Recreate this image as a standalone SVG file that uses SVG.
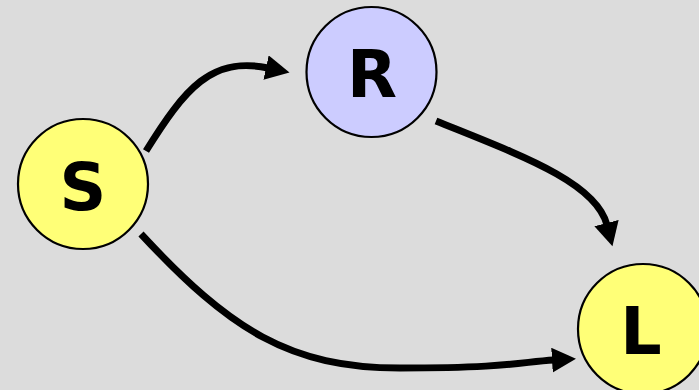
<svg xmlns="http://www.w3.org/2000/svg" width="699" height="390" viewBox="0 0 699 390">
<style>
.node{stroke:#000;stroke-width:2.2}
.lbl{font-family:"DejaVu Sans",Verdana,sans-serif;font-weight:bold;font-size:65px;fill:#000;text-anchor:middle}
.edge{fill:none;stroke:#000;stroke-width:7}
</style>
<defs>
<marker id="ah" markerUnits="userSpaceOnUse" markerWidth="26" markerHeight="26" refX="2" refY="12.5" orient="auto" viewBox="0 0 26 26">
<path d="M0,0 L24,12.5 L0,25 Z" fill="#000"/>
</marker>
</defs>
<rect width="699" height="390" fill="#dcdcdc"/>
<g id="connectors">
<path class="edge" marker-end="url(#ah)" d="M146,151 C185,88 212,56 268,68"/>
<path class="edge" marker-end="url(#ah)" d="M436,121 C520,155 596,182 607,225"/>
<path class="edge" marker-end="url(#ah)" d="M141,234 C230,330 290,368 400,368 S520,362 554,360"/>
</g>
<g id="node-S">
<circle class="node" cx="83" cy="184" r="65" fill="#ffff77"/>
<text class="lbl" x="83" y="210">S</text>
</g>
<g id="node-R">
<circle class="node" cx="371.5" cy="72" r="65" fill="#ccccff"/>
<text class="lbl" x="372" y="97">R</text>
</g>
<g id="node-L">
<circle class="node" cx="643" cy="329" r="65" fill="#ffff77"/>
<text class="lbl" x="641" y="354">L</text>
</g>
</svg>
